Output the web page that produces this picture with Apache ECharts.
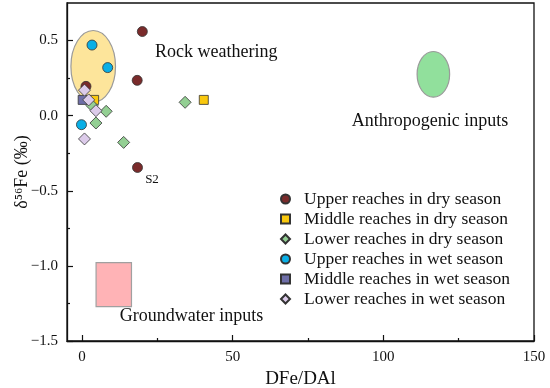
<!DOCTYPE html>
<html>
<head>
<meta charset="utf-8">
<script src="https://cdn.jsdelivr.net/npm/echarts@6/dist/echarts.min.js"></script>
<style>html,body{margin:0;padding:0;background:#fff}#c{width:550px;height:388px}</style>
</head>
<body>
<div id="c"></div>
<script>
// ---- data ----
var seriesNames = ['Upper reaches in dry season','Middle reaches in dry season','Lower reaches in dry season',
  'Upper reaches in wet season','Middle reaches in wet season','Lower reaches in wet season'];
var upperDry = [[20,0.56],[18.3,0.235],[1.3,0.195],[18.4,-0.345]];
var middleDry = [[4,0.105],[40.4,0.105]];
var lowerDry = [[34.2,0.089],[3.3,0.067],[8,0.029],[4.6,-0.049],[13.8,-0.178]];
var upperWet = [[3.3,0.47],[8.5,0.32],[-0.2,-0.06]];
var middleWet = [[0.2,0.105]];
var lowerWet = [[0.8,0.17],[2.2,0.105],[4.6,0.033],[0.8,-0.155]];
var xTicks = [0,50,100,150];
var xMinorTicks = [25,75,125];
var yTicks = [-1.5,-1.0,-0.5,0.0,0.5];
var yMinorTicks = [-1.25,-0.75,-0.25,0.25];
// source regions: [cx, cy, rx, ry]
var rockEllipse = [3.7,0.328,7.4,0.239];
var anthroEllipse = [116.6,0.275,5.4,0.152];
// groundwater rectangle: [x0, y0, x1, y1]
var groundRect = [4.65,-0.978,16.4,-1.271];

var serif = 'Liberation Serif, Times New Roman, serif';
var chart = echarts.init(document.getElementById('c'));
function fmt(v){ var s = Math.abs(v).toFixed(1); return v < 0 ? '\u2212' + s : s; }
function scat(name, data, symbol, size, color){
  return {type:'scatter', name:name, data:data, symbol:symbol, symbolSize:size, z:5,
    itemStyle:{color:color, borderColor:'#333', borderWidth:0.8, opacity:1}};
}
var option = {
  animation:false,
  grid:{left:67, right:16, top:3, bottom:47, containLabel:false, outerBoundsMode:'none',
    show:true, borderColor:'#111', borderWidth:1.3, backgroundColor:'transparent'},
  xAxis:[{
    type:'value', min:-5, max:150, splitLine:{show:false},
    axisLine:{onZero:false, lineStyle:{color:'#111', width:1.3}},
    axisTick:{inside:true, length:6, customValues:xTicks, lineStyle:{color:'#111', width:1.2}},
    axisLabel:{customValues:xTicks, fontFamily:serif, fontSize:15, color:'#111', margin:9},
    name:'DFe/DAl', nameLocation:'middle', nameGap:29, nameMoveOverlap:false,
    nameTextStyle:{fontFamily:serif, fontSize:19, color:'#111'}
  },{
    type:'value', min:-5, max:150, position:'bottom', splitLine:{show:false},
    axisLine:{show:false, onZero:false}, axisLabel:{show:false},
    axisTick:{inside:true, length:3, customValues:xMinorTicks, lineStyle:{color:'#111', width:1.2}}
  }],
  yAxis:[{
    type:'value', min:-1.5, max:0.75, splitLine:{show:false},
    axisLine:{onZero:false, lineStyle:{color:'#111', width:1.3}},
    axisTick:{inside:true, length:6, customValues:yTicks, lineStyle:{color:'#111', width:1.2}},
    axisLabel:{customValues:yTicks, formatter:fmt, fontFamily:serif, fontSize:15, color:'#111', margin:9},
    name:'\u03b4\u2075\u2076Fe (\u2030)', nameLocation:'middle', nameGap:36, nameRotate:90, nameMoveOverlap:false,
    nameTextStyle:{fontFamily:serif, fontSize:18, color:'#111'}
  },{
    type:'value', min:-1.5, max:0.75, position:'left', splitLine:{show:false},
    axisLine:{show:false, onZero:false}, axisLabel:{show:false},
    axisTick:{inside:true, length:3, customValues:yMinorTicks, lineStyle:{color:'#111', width:1.2}}
  }],
  legend:{
    data:seriesNames, orient:'vertical', left:275, top:185, itemWidth:9, itemHeight:9, itemGap:2,
    textStyle:{fontFamily:serif, fontSize:17.5, lineHeight:18, color:'#111', padding:[0,0,0,9]}
  },
  graphic:[
    {type:'text', x:155, y:52, style:{text:'Rock weathering', font:'18px ' + serif, fill:'#111', textAlign:'left', textVerticalAlign:'middle'}},
    {type:'text', x:430, y:121, style:{text:'Anthropogenic inputs', font:'18px ' + serif, fill:'#111', textAlign:'center', textVerticalAlign:'middle'}},
    {type:'text', x:191.5, y:316, style:{text:'Groundwater inputs', font:'18px ' + serif, fill:'#111', textAlign:'center', textVerticalAlign:'middle'}},
    {type:'text', x:152, y:180, style:{text:'S2', font:'13px ' + serif, fill:'#111', textAlign:'center', textVerticalAlign:'middle'}}
  ],
  series:[
    {type:'custom', z:1, silent:true, data:[rockEllipse, anthroEllipse],
     renderItem:function(params, api){
       var c = api.coord([api.value(0), api.value(1)]);
       var s = api.size([api.value(2), api.value(3)]);
       var fill = params.dataIndex === 0 ? '#FDE59B' : '#91E09C';
       return {type:'ellipse', shape:{cx:c[0], cy:c[1], rx:s[0], ry:s[1]},
         style:{fill:fill, stroke:'#9a9a9a', lineWidth:1.2}};
     }},
    {type:'custom', z:1, silent:true, data:[groundRect],
     renderItem:function(params, api){
       var p0 = api.coord([api.value(0), api.value(1)]);
       var p1 = api.coord([api.value(2), api.value(3)]);
       return {type:'rect', shape:{x:Math.min(p0[0],p1[0]), y:Math.min(p0[1],p1[1]), width:Math.abs(p1[0]-p0[0]), height:Math.abs(p1[1]-p0[1])},
         style:{fill:'#FFB3B6', stroke:'#a0a0a0', lineWidth:1.2}};
     }},
    scat(seriesNames[0], upperDry, 'circle', 10, '#7A2B2B'),
    scat(seriesNames[1], middleDry, 'rect', 9, '#F9C80E'),
    scat(seriesNames[2], lowerDry, 'diamond', 12, '#93CF93'),
    scat(seriesNames[3], upperWet, 'circle', 10, '#0AAFE6'),
    scat(seriesNames[4], middleWet, 'rect', 9, '#6E6EA8'),
    scat(seriesNames[5], lowerWet, 'diamond', 12, '#DCCBEA')
  ]
};
chart.setOption(option);
</script>
</body>
</html>
